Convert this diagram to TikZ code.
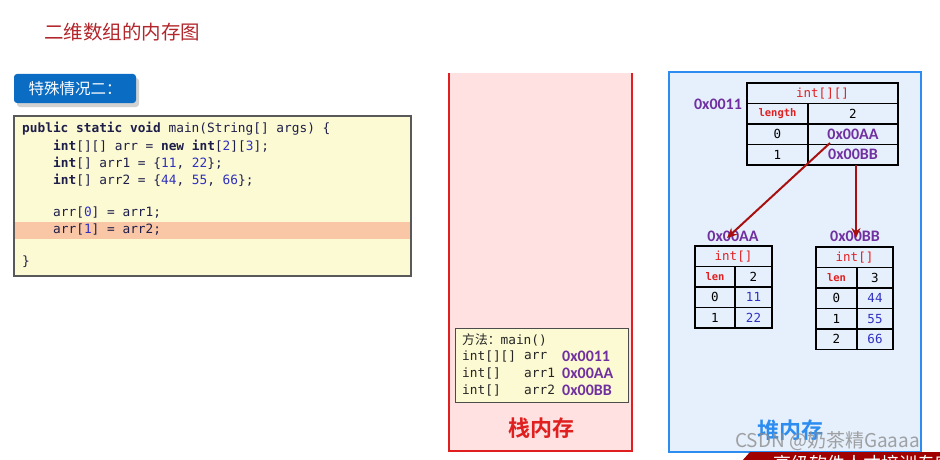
\documentclass[tikz,border=0pt]{standalone}
\usepackage{fontspec}
\usetikzlibrary{arrows.meta}
\setmonofont{DejaVu Sans Mono}
\setsansfont{Carlito}
\newfontfamily\cjk{Noto Sans CJK SC}
\newfontfamily\cjkb{Noto Sans CJK SC Bold}
\definecolor{titlered}{HTML}{B3262B}
\definecolor{btnblue}{HTML}{0A6CC2}
\definecolor{codebg}{HTML}{FCFAD2}
\definecolor{hlbg}{HTML}{F9C6A6}
\definecolor{codetxt}{HTML}{1E1E4A}
\definecolor{numblue}{HTML}{3030C0}
\definecolor{addr}{HTML}{7030A0}
\definecolor{stackbg}{HTML}{FFE1E1}
\definecolor{stackred}{HTML}{E02020}
\definecolor{heapbg}{HTML}{E6F0FC}
\definecolor{heapblue}{HTML}{2D8CF0}
\definecolor{cellred}{HTML}{E02020}
\definecolor{ptrred}{HTML}{A81010}
\definecolor{banner}{HTML}{A00000}
\newcommand{\kw}[1]{\textbf{#1}}
\newcommand{\nm}[1]{\textcolor{numblue}{#1}}
\begin{document}
\begin{tikzpicture}[x=1pt,y=-1pt,
  codeline/.style={anchor=west,inner sep=0pt,text=codetxt,font=\ttfamily\fontsize{12.8}{15}\selectfont},
  cell/.style={draw=black,line width=1.6pt,minimum height=20.5pt,inner sep=0pt,anchor=center,font=\ttfamily\fontsize{12.5}{14}\selectfont},
  hdr/.style={cell,text=cellred},
  lencell/.style={cell,text=cellred,font=\ttfamily\bfseries\fontsize{10.5}{12}\selectfont},
  valcell/.style={cell,text=numblue},
  addrcell/.style={cell,text=addr,font=\sffamily\bfseries\fontsize{16}{18}\selectfont},
  addrlab/.style={inner sep=0pt,text=addr,font=\sffamily\bfseries\fontsize{16}{18}\selectfont},
  frametxt/.style={anchor=west,inner sep=0pt,text=black!85,font=\ttfamily\fontsize{12.8}{15}\selectfont},
  ptr/.style={draw=ptrred,line width=2pt,-{Stealth[length=10pt,width=9pt]}}]
\useasboundingbox (0,0) rectangle (940,460);
\fill[white] (0,0) rectangle (940,460);

% title
\node[anchor=west,inner sep=0pt,text=titlered,font=\cjk\fontsize{19.5}{22}\selectfont] (title) at (44,32) {二维数组的内存图};

% button
\fill[black!18,rounded corners=3pt] (17,78) rectangle (139,107);
\node[fill=btnblue,rounded corners=3pt,minimum width=122pt,minimum height=29pt,inner sep=0pt,text=white,font=\cjk\fontsize{15.5}{18}\selectfont] (btn) at (75,88.5) {特殊情况二：};

% code box
\node[draw=black!65,line width=1.2pt,fill=codebg,minimum width=397pt,minimum height=160pt,inner sep=0pt] (code) at (212.5,196) {};
\node[fill=hlbg,minimum width=395pt,minimum height=17pt,inner sep=0pt] (hl) at (212.5,230.5) {};
\node[codeline] (c1) at (22,129) {\kw{public static void} main(String[] args) \{};
\node[codeline] (c2) at (53,146) {\kw{int}[][] arr = \kw{new} \kw{int}[\nm{2}][\nm{3}];};
\node[codeline] (c3) at (53,163) {\kw{int}[] arr1 = \{\nm{11}, \nm{22}\};};
\node[codeline] (c4) at (53,180) {\kw{int}[] arr2 = \{\nm{44}, \nm{55}, \nm{66}\};};
\node[codeline] (c5) at (53,213) {arr[\nm{0}] = arr1;};
\node[codeline] (c6) at (53,230) {arr[\nm{1}] = arr2;};
\node[codeline] (c7) at (22,262) {\}};

% stack
\fill[stackbg] (449,73) rectangle (632,451);
\draw[stackred,line width=2.5pt] (449,73) -- (449,451) -- (632,451) -- (632,73);
\node[draw=black!70,line width=1pt,fill=codebg,minimum width=173pt,minimum height=74pt,inner sep=0pt] (frame) at (541.5,365) {};
\node[frametxt] (f1) at (462,340) {{\cjk 方法：}main()};
\node[frametxt] (f2) at (462,356.5) {int[][]};
\node[frametxt] (f3) at (462,373) {int[]};
\node[frametxt] (f4) at (462,390) {int[]};
\node[frametxt] (n2) at (524,356.5) {arr};
\node[frametxt] (n3) at (524,373) {arr1};
\node[frametxt] (n4) at (524,390) {arr2};
\node[addrlab,anchor=west] (a2) at (562,356.5) {0x0011};
\node[addrlab,anchor=west] (a3) at (562,373) {0x00AA};
\node[addrlab,anchor=west] (a4) at (562,390) {0x00BB};
\node[inner sep=0pt,text=stackred,font=\cjkb\fontsize{22}{26}\selectfont] (stacklab) at (541,428) {栈内存};

% heap
\draw[heapblue,line width=2.5pt,fill=heapbg] (669,72) rectangle (921,452);
\node[inner sep=0pt,text=heapblue,font=\cjkb\fontsize{22}{26}\selectfont] (heaplab) at (790,430) {堆内存};

% main 2D table
\node[hdr,minimum width=151pt] (mh) at (822.5,93.25) {int[][]};
\node[lencell,minimum width=61pt] (ml) at (777.5,113.75) {length};
\node[cell,minimum width=90pt] (mlv) at (853,113.75) {2};
\node[cell,minimum width=61pt] (m0) at (777.5,134.25) {0};
\node[addrcell,minimum width=90pt] (m0v) at (853,134.25) {0x00AA};
\node[cell,minimum width=61pt] (m1) at (777.5,154.75) {1};
\node[addrcell,minimum width=90pt] (m1v) at (853,154.75) {0x00BB};
\node[addrlab] (lab11) at (718,104) {0x0011};

% arr1 table
\node[addrlab] (labA) at (733,236) {0x00AA};
\node[hdr,minimum width=77pt] (ah) at (733.5,256.25) {int[]};
\node[lencell,minimum width=40pt] (al) at (715,276.75) {len};
\node[cell,minimum width=37pt] (alv) at (753.5,276.75) {2};
\node[cell,minimum width=40pt] (a0) at (715,297.25) {0};
\node[valcell,minimum width=37pt] (a0v) at (753.5,297.25) {11};
\node[cell,minimum width=40pt] (a1) at (715,317.75) {1};
\node[valcell,minimum width=37pt] (a1v) at (753.5,317.75) {22};

% arr2 table
\node[addrlab] (labB) at (855,236) {0x00BB};
\node[hdr,minimum width=77pt] (bh) at (854.5,257.25) {int[]};
\node[lencell,minimum width=41pt] (bl) at (836.5,277.75) {len};
\node[cell,minimum width=36pt] (blv) at (875,277.75) {3};
\node[cell,minimum width=41pt] (b0) at (836.5,298.25) {0};
\node[valcell,minimum width=36pt] (b0v) at (875,298.25) {44};
\node[cell,minimum width=41pt] (b1) at (836.5,318.75) {1};
\node[valcell,minimum width=36pt] (b1v) at (875,318.75) {55};
\node[cell,minimum width=41pt] (b2) at (836.5,339.25) {2};
\node[valcell,minimum width=36pt] (b2v) at (875,339.25) {66};

% pointers
\coordinate (s1) at (830,143);
\coordinate (e1) at (727,238);
\coordinate (s2) at (856,165);
\coordinate (e2) at (856,238);
\draw[ptr] (s1) -- (e1);
\draw[ptr] (s2) -- (e2);

% watermark
\node[anchor=west,inner sep=0pt,text=black!45,opacity=0.8,font=\cjk\fontsize{19}{22}\selectfont] (wm) at (735,441) {CSDN @奶茶精Gaaaa};

% bottom banner
\begin{scope}
\clip (0,0) rectangle (940,460);
\fill[banner] (742,461) -- (750,452) -- (941,452) -- (941,461) -- cycle;
\node[anchor=west,inner sep=0pt,text=white,font=\cjk\fontsize{18}{20}\selectfont] (ban) at (773,464) {高级软件人才培训专家};
\end{scope}
\end{tikzpicture}
\end{document}
